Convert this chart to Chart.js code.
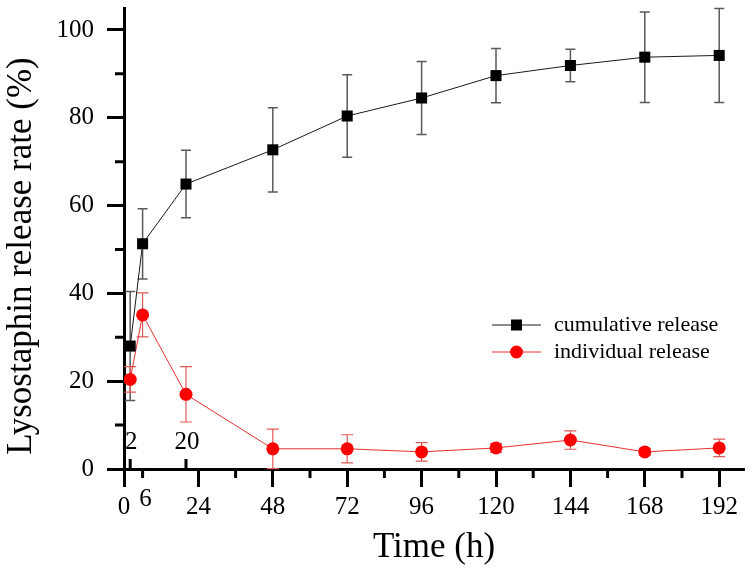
<!DOCTYPE html>
<html><head><meta charset="utf-8">
<script src="https://cdn.jsdelivr.net/npm/chart.js@4.4.1/dist/chart.umd.min.js"></script>
<style>html,body{margin:0;padding:0;background:#fff;}#wrap{width:753px;height:574px;}</style>
</head><body><div id="wrap"><canvas id="c" width="753" height="574"></canvas></div>
<script>
const timeHours = [2, 6, 20, 48, 72, 96, 120, 144, 168, 192];
const cumulativeRelease = [28.0, 51.3, 64.9, 72.7, 80.4, 84.5, 89.6, 91.9, 93.8, 94.2];
const cumulativeError = [12.4, 8.0, 7.7, 9.6, 9.4, 8.3, 6.2, 3.7, 10.3, 10.7];
const individualRelease = [20.4, 35.1, 17.0, 4.6, 4.6, 3.9, 4.8, 6.6, 3.9, 4.8];
const individualError = [2.9, 5.0, 6.3, 4.5, 3.2, 2.1, 1.0, 2.1, 0.8, 2.0];
const seriesLabels = ['cumulative release', 'individual release'];
const xTickValues = [0, 24, 48, 72, 96, 120, 144, 168, 192];
const xMinorTickValues = [6, 36, 60, 84, 108, 132, 156, 180];
const xUpperTickValues = [2, 20];
const xUpperTickLabels = ['2', '20'];
const xLowerExtraValues = [6];
const xLowerExtraLabels = ['6'];
const yTickValues = [0, 20, 40, 60, 80, 100];
const yMinorTickValues = [10, 30, 50, 70, 90];
const xTitle = 'Time (h)';
const yTitle = 'Lysostaphin release rate (%)';

const FONT = 'Liberation Serif, Times New Roman, serif';

const errorBarPlugin = {
  id: 'errorBars',
  beforeDatasetsDraw(chart) {
    const ctx = chart.ctx, xs = chart.scales.x, ys = chart.scales.y;
    chart.data.datasets.forEach((ds) => {
      ctx.save();
      ctx.strokeStyle = ds.errColor;
      ctx.lineWidth = ds.errWidth;
      ds.data.forEach((p, i) => {
        const e = ds.errors[i];
        const x = xs.getPixelForValue(p.x);
        const yT = ys.getPixelForValue(p.y + e);
        const yB = ys.getPixelForValue(Math.max(0, p.y - e));
        ctx.beginPath();
        ctx.moveTo(x, yT); ctx.lineTo(x, yB);
        ctx.moveTo(x - ds.capHalf, yT); ctx.lineTo(x + ds.capHalf, yT);
        if (p.y - e > 0) { ctx.moveTo(x - ds.capHalf, yB); ctx.lineTo(x + ds.capHalf, yB); }
        ctx.stroke();
      });
      ctx.restore();
    });
  }
};

const axisExtrasPlugin = {
  id: 'axisExtras',
  afterDraw(chart) {
    const ctx = chart.ctx, xs = chart.scales.x, ys = chart.scales.y;
    const a = chart.chartArea;
    ctx.save();
    ctx.strokeStyle = '#000';
    ctx.lineWidth = 3;
    ctx.beginPath();
    xMinorTickValues.forEach(v => { const x = xs.getPixelForValue(v); ctx.moveTo(x, a.bottom); ctx.lineTo(x, a.bottom + 9); });
    xUpperTickValues.forEach(v => { const x = xs.getPixelForValue(v); ctx.moveTo(x, a.bottom); ctx.lineTo(x, a.bottom - 10); });
    yMinorTickValues.forEach(v => { const y = ys.getPixelForValue(v); ctx.moveTo(a.left, y); ctx.lineTo(a.left - 9, y); });
    ctx.stroke();
    ctx.fillStyle = '#000';
    ctx.font = '25px ' + FONT;
    ctx.textAlign = 'center';
    ctx.textBaseline = 'middle';
    xUpperTickValues.forEach((v, i) => ctx.fillText(xUpperTickLabels[i], xs.getPixelForValue(v) + 1, a.bottom - 27));
    xLowerExtraValues.forEach((v, i) => ctx.fillText(xLowerExtraLabels[i], xs.getPixelForValue(v) + 3, a.bottom + 30));
    // y axis title
    ctx.save();
    ctx.font = '35px ' + FONT;
    ctx.translate(21.5, 256);
    ctx.rotate(-Math.PI / 2);
    ctx.fillText(yTitle, 0, 0);
    ctx.restore();
    // legend
    const lx = 492, lw = 49, ly0 = 325, dy = 27;
    ctx.font = '22px ' + FONT;
    ctx.textAlign = 'left';
    chart.data.datasets.forEach((ds, i) => {
      const y = ly0 + i * dy;
      ctx.strokeStyle = ds.borderColor; ctx.lineWidth = 1;
      ctx.beginPath(); ctx.moveTo(lx, y); ctx.lineTo(lx + lw, y); ctx.stroke();
      ctx.fillStyle = ds.pointBackgroundColor;
      const cx = lx + lw / 2;
      if (ds.pointStyle === 'rect') { ctx.fillRect(cx - 5.5, y - 5.5, 11, 11); }
      else { ctx.beginPath(); ctx.arc(cx, y, 6.5, 0, Math.PI * 2); ctx.fill(); }
      ctx.fillStyle = '#000';
      ctx.fillText(ds.label, 554, y);
    });
    ctx.restore();
  }
};

new Chart(document.getElementById('c'), {
  type: 'line',
  data: {
    datasets: [
      {
        label: seriesLabels[0],
        data: timeHours.map((t, i) => ({x: t, y: cumulativeRelease[i]})),
        errors: cumulativeError,
        errColor: '#5a5a5a', errWidth: 1.5, capHalf: 5,
        borderColor: '#1a1a1a', borderWidth: 1,
        pointStyle: 'rect', pointRadius: 7.8,
        pointBackgroundColor: '#000', pointBorderColor: '#000', pointBorderWidth: 0,
        tension: 0, fill: false
      },
      {
        label: seriesLabels[1],
        data: timeHours.map((t, i) => ({x: t, y: individualRelease[i]})),
        errors: individualError,
        errColor: '#e05a5a', errWidth: 1.2, capHalf: 6,
        borderColor: '#e83030', borderWidth: 1,
        pointStyle: 'circle', pointRadius: 6.5,
        pointBackgroundColor: '#ff0000', pointBorderColor: '#ff0000', pointBorderWidth: 0,
        tension: 0, fill: false
      }
    ]
  },
  options: {
    responsive: false,
    animation: false,
    events: [],
    layout: {padding: {top: 8, right: 9, left: 0, bottom: 0}},
    plugins: {legend: {display: false}, tooltip: {enabled: false}},
    scales: {
      x: {
        type: 'linear', min: 0, max: 200,
        afterBuildTicks: s => { s.ticks = xTickValues.map(v => ({value: v})); },
        afterFit: s => { s.height = 105; s.paddingLeft = 0; s.paddingRight = 0; },
        grid: {drawOnChartArea: false, drawTicks: true, tickLength: 18, tickWidth: 3, color: '#000'},
        border: {display: true, width: 3, color: '#000'},
        ticks: {font: {family: FONT, size: 25}, color: '#000', padding: 5, maxRotation: 0, autoSkip: false},
        title: {display: true, text: xTitle, font: {family: FONT, size: 35}, color: '#000', padding: {top: 0, bottom: 5}}
      },
      y: {
        min: 0, max: 105,
        afterBuildTicks: s => { s.ticks = yTickValues.map(v => ({value: v})); },
        afterFit: s => { s.width = 124; s.paddingTop = 0; s.paddingBottom = 0; },
        grid: {drawOnChartArea: false, drawTicks: true, tickLength: 17, tickWidth: 3, color: '#000'},
        border: {display: true, width: 3, color: '#000'},
        ticks: {font: {family: FONT, size: 25}, color: '#000', padding: 13},
        title: {display: false}
      }
    }
  },
  plugins: [errorBarPlugin, axisExtrasPlugin]
});
</script></body></html>
